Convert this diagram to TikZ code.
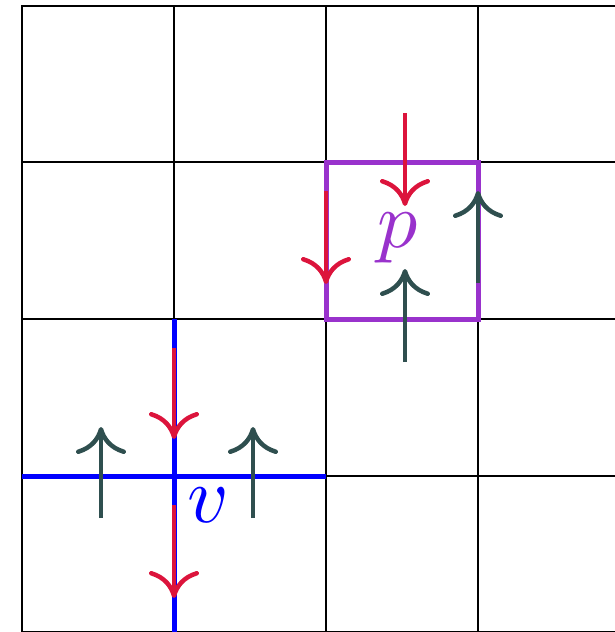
\documentclass[tikz,border=0pt]{standalone}
\usetikzlibrary{arrows.meta}
\definecolor{pur}{RGB}{153,50,204}
\definecolor{crim}{RGB}{220,20,60}
\definecolor{dslate}{RGB}{47,79,79}
\begin{document}
\begin{tikzpicture}[x=1pt,y=-1pt,
  gridline/.style={black,line width=2pt},
  cutline/.style={line width=5pt},
  tipstyle/.style={-{Computer Modern Rightarrow[length=27pt,width=50pt,line width=4.5pt]}},
  redarrow/.style={crim,line width=4pt,tipstyle},
  darkarrow/.style={dslate,line width=4pt,tipstyle},
  lab/.style={scale=8,inner sep=0pt}]
\useasboundingbox (0,0) rectangle (615,632);
\begin{scope}
  \clip (0,0) rectangle (615,632);
  \foreach \x in {22,174,326,478} \draw[gridline] (\x,5) -- (\x,640);
  \foreach \y in {6,162,319,476,632} \draw[gridline] (21,\y) -- (620,\y);
\end{scope}
% highlighted cells / edges
\draw[pur,cutline,line join=miter] (326,162) rectangle (478,319);
\draw[blue,cutline] (22,476) -- (326,476);
\draw[blue,cutline] (174,319) -- (174,632);
% arrow coordinates
\coordinate (a1s) at (405,113); \coordinate (a1t) at (405,206);
\coordinate (a2s) at (326,191); \coordinate (a2t) at (326,284);
\coordinate (a3s) at (174,348); \coordinate (a3t) at (174,439);
\coordinate (a4s) at (174,505); \coordinate (a4t) at (174,598);
\coordinate (b1s) at (478,283); \coordinate (b1t) at (478,191);
\coordinate (b2s) at (405,362); \coordinate (b2t) at (405,269);
\coordinate (b3s) at (101,518); \coordinate (b3t) at (101,427);
\coordinate (b4s) at (253,518); \coordinate (b4t) at (253,427);
\draw[redarrow] (a1s) -- (a1t);
\draw[redarrow] (a2s) -- (a2t);
\draw[redarrow] (a3s) -- (a3t);
\draw[redarrow] (a4s) -- (a4t);
\draw[darkarrow] (b1s) -- (b1t);
\draw[darkarrow] (b2s) -- (b2t);
\draw[darkarrow] (b3s) -- (b3t);
\draw[darkarrow] (b4s) -- (b4t);
% labels
\node[lab,text=pur] (p) at (398,238) {$p$};
\node[lab,text=blue] (v) at (208,505) {$v$};
\end{tikzpicture}
\end{document}
